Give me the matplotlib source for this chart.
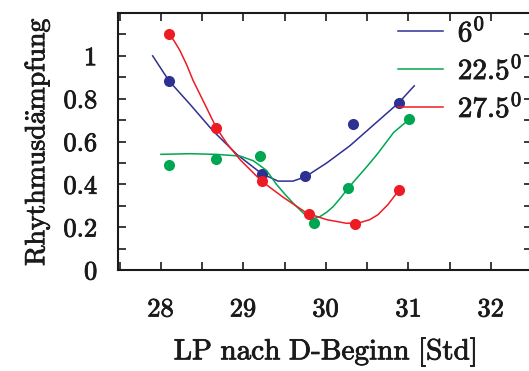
import matplotlib
matplotlib.use("Agg")
import matplotlib.pyplot as plt
import matplotlib.patheffects as pe
from matplotlib.ticker import MultipleLocator

plt.rcParams["font.family"] = "serif"
plt.rcParams["font.serif"] = ["cmr10"]
plt.rcParams["mathtext.fontset"] = "cm"
plt.rcParams["axes.formatter.use_mathtext"] = True

# measured damping values
pts_6_x = [28.10, 29.22, 29.75, 30.33, 30.88]
pts_6_y = [0.883, 0.446, 0.441, 0.681, 0.782]
pts_225_x = [28.10, 28.67, 29.20, 29.85, 30.27, 31.01]
pts_225_y = [0.490, 0.520, 0.532, 0.219, 0.383, 0.707]
pts_275_x = [28.10, 28.67, 29.22, 29.80, 30.35, 30.88]
pts_275_y = [1.103, 0.665, 0.415, 0.261, 0.214, 0.372]

# fitted curves
fit_6_x = [27.90, 28.10, 28.35, 28.63, 28.92, 29.22, 29.42, 29.60, 29.75,
           30.01, 30.29, 30.57, 30.88, 31.07]
fit_6_y = [1.000, 0.882, 0.775, 0.650, 0.540, 0.450, 0.415, 0.415, 0.435,
           0.500, 0.580, 0.675, 0.780, 0.860]
fit_225_x = [28.00, 28.35, 28.67, 28.96, 29.12, 29.28, 29.40, 29.50, 29.60,
             29.70, 29.77, 29.85, 29.93, 30.01, 30.09, 30.18, 30.27, 30.49,
             30.63, 30.82, 31.01]
fit_225_y = [0.540, 0.543, 0.540, 0.532, 0.510, 0.465, 0.400, 0.355, 0.313,
             0.275, 0.250, 0.240, 0.250, 0.270, 0.297, 0.338, 0.383, 0.480,
             0.545, 0.642, 0.704]
fit_275_x = [28.10, 28.16, 28.23, 28.31, 28.39, 28.55, 28.67, 28.80, 28.96,
             29.22, 29.48, 29.77, 30.01, 30.25, 30.40, 30.53, 30.63, 30.75,
             30.88]
fit_275_y = [1.100, 1.070, 1.025, 0.960, 0.885, 0.760, 0.665, 0.590, 0.515,
             0.415, 0.340, 0.265, 0.235, 0.218, 0.220, 0.235, 0.258, 0.305,
             0.370]

series = [
    ("$6^0$", "#2e3192", pts_6_x, pts_6_y, fit_6_x, fit_6_y),
    ("$22.5^0$", "#00a651", pts_225_x, pts_225_y, fit_225_x, fit_225_y),
    ("$27.5^0$", "#ed1c24", pts_275_x, pts_275_y, fit_275_x, fit_275_y),
]

x_ticks = [28, 29, 30, 31, 32]
y_ticks = [0, 0.2, 0.4, 0.6, 0.8, 1.0]
y_tick_labels = ["0", "0.2", "0.4", "0.6", "0.8", "1"]

# slightly heavier glyphs
bold_ink = [pe.withStroke(linewidth=0.6, foreground="#1a1a1a")]

fig = plt.figure(figsize=(5.29, 3.71), dpi=100)
ax = fig.add_axes([118 / 529, 101 / 371, 414.25 / 529, 257 / 371])

for label, color, px, py, fx, fy in series:
    ax.plot(fx, fy, color=color, linewidth=1.1, label=label,
            solid_joinstyle="round")
    ax.plot(px, py, "o", color=color, markersize=8, markeredgewidth=0)

ax.set_xlim(27.48, 32.5)
ax.set_ylim(0, 1.2)
ax.set_xticks(x_ticks)
ax.set_yticks(y_ticks)
ax.set_yticklabels(y_tick_labels)
ax.xaxis.set_minor_locator(MultipleLocator(0.5))
ax.yaxis.set_minor_locator(MultipleLocator(0.1))
ax.tick_params(which="both", direction="in", top=True, right=True,
               length=5.5, width=1.2, labelsize=19, colors="#1a1a1a")
ax.tick_params(axis="x", which="major", pad=20)
ax.tick_params(axis="y", which="major", pad=15)
for spine in ax.spines.values():
    spine.set_linewidth(1.5)
    spine.set_color("#1a1a1a")

ax.set_xlabel(r"$\mathrm{LP\ nach\ D\text{-}Beginn\ [Std]}$", fontsize=21,
              labelpad=10, color="#1a1a1a")
ax.set_ylabel(r"$\mathrm{Rhythmusd\ddot{a}mpfung}$", fontsize=20,
              labelpad=8, color="#1a1a1a")

leg = ax.legend(loc="upper left", bbox_to_anchor=(398 / 529, 1 - 18 / 371),
                bbox_transform=fig.transFigure, frameon=False, fontsize=21,
                handlelength=1.55, handletextpad=0.5, labelspacing=0.3,
                borderpad=0, borderaxespad=0)

texts = ax.get_xticklabels() + ax.get_yticklabels() + leg.get_texts()
texts += [ax.xaxis.label, ax.yaxis.label]
for t in texts:
    t.set_path_effects(bold_ink)
    t.set_color("#1a1a1a")

fig.savefig("out.png", dpi=100)
